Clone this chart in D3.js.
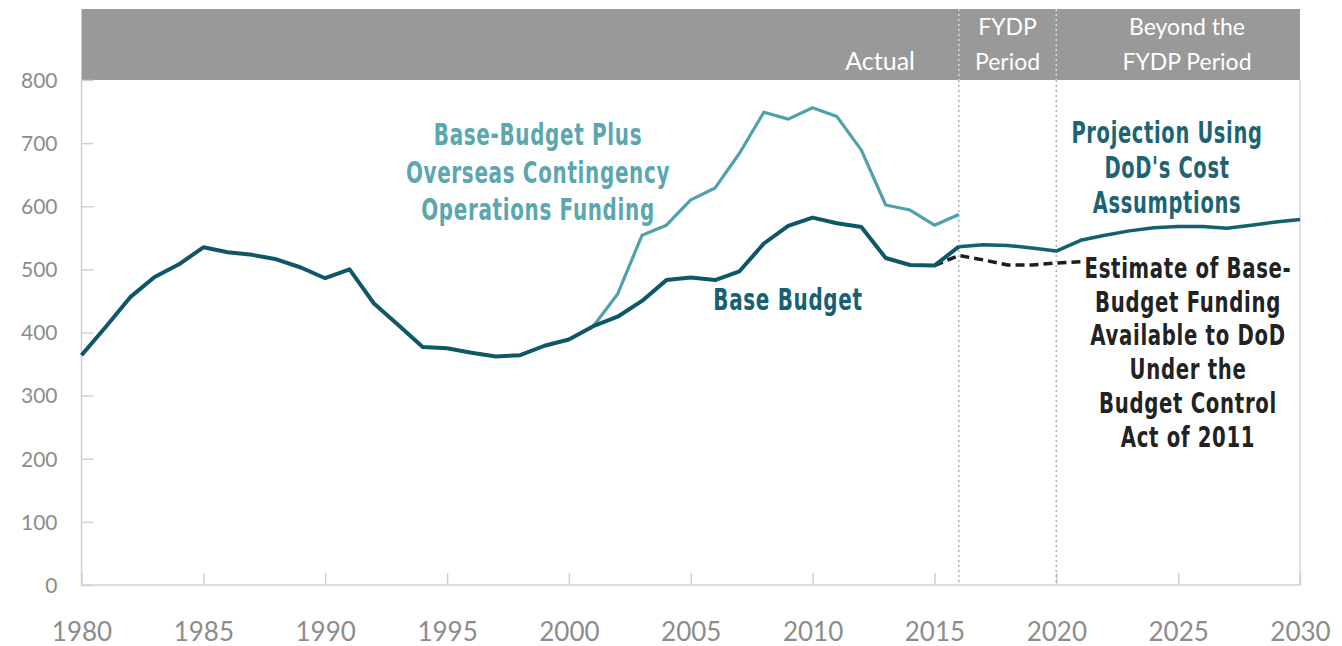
<!DOCTYPE html>
<html>
<head>
<meta charset="utf-8">
<script src="https://cdn.jsdelivr.net/npm/d3@7"></script>
<style>
  html, body { margin: 0; padding: 0; background: #fff; }
  svg { display: block; }
  .tick text { font-family: Lato, "Noto Sans", sans-serif; fill: #8c8c8c; }
  .ann { font-family: "DejaVu Sans", sans-serif; font-weight: bold; }
  .hdr { font-family: Lato, "Noto Sans", sans-serif; fill: #fff; font-size: 23px; }
</style>
</head>
<body>
<svg id="chart" width="1342" height="646"></svg>
<script>
// ---- data ----
const baseYears = [1980,1981,1982,1983,1984,1985,1986,1987,1988,1989,1990,1991,1992,1993,1994,1995,1996,1997,1998,1999,2000,2001,2002,2003,2004,2005,2006,2007,2008,2009,2010,2011,2012,2013,2014,2015,2016];
const baseValues = [364,409,456,488,508,535,527,523,516,503,486,500,446,412,377,375,368,362,364,379,389,410,425,450,483,487,483,497,541,569,582,573,567,518,507,506,536];

const ocoYears = [2001,2002,2003,2004,2005,2006,2007,2008,2009,2010,2011,2012,2013,2014,2015,2016];
const ocoValues = [410,461,554,570,610,629,684,749,738,756,742,689,602,594,570,587];

const projYears = [2016,2017,2018,2019,2020,2021,2022,2023,2024,2025,2026,2027,2028,2029,2030];
const projValues = [536,539,538,534,529,546,554,561,566,568,568,565,570,575,579];

const bcaYears = [2015,2016,2017,2018,2019,2020,2021];
const bcaValues = [506,522,515,507,507,510,512];

const yTicks = [0,100,200,300,400,500,600,700,800];
const xTicks = [1980,1985,1990,1995,2000,2005,2010,2015,2020,2025,2030];
const periodBreaks = [2016,2020];

(function () {
// ---- layout ----
const svg = d3.select("#chart");
const L = 81.5, R = 1300, T = 80, B = 585, bandTop = 9;
const x = d3.scaleLinear().domain([1980, 2030]).range([L, R]);
const y = d3.scaleLinear().domain([0, 800]).range([B, T]);

// header band
svg.append("rect").attr("x", L).attr("y", bandTop).attr("width", R - L).attr("height", T - bandTop).attr("fill", "#999999");

// right border
svg.append("line").attr("x1", R).attr("x2", R).attr("y1", T).attr("y2", B).attr("stroke", "#d6d6d6").attr("stroke-width", 1.5);

// y axis
const yAxis = svg.append("g").attr("transform", `translate(${L},0)`)
  .call(d3.axisRight(y).tickValues(yTicks).tickSize(12).tickFormat(d3.format("d")));
yAxis.select(".domain").remove();
yAxis.selectAll(".tick line").attr("stroke", "#d0d0d0").attr("stroke-width", 1.5);
yAxis.selectAll(".tick text").attr("x", -24).attr("text-anchor", "end").attr("dy", "0.35em").style("font-size", "21px");
svg.append("line").attr("x1", L).attr("x2", L).attr("y1", T).attr("y2", B).attr("stroke", "#d0d0d0").attr("stroke-width", 1.5);

// x axis
const xAxis = svg.append("g").attr("transform", `translate(0,${B})`)
  .call(d3.axisTop(x).tickValues(xTicks).tickSize(12).tickFormat(d3.format("d")));
xAxis.select(".domain").remove();
xAxis.selectAll(".tick line").attr("stroke", "#d0d0d0").attr("stroke-width", 1.5);
xAxis.selectAll(".tick text").attr("y", 47).attr("dy", "0.35em").attr("text-anchor", "middle").style("font-size", "26px");
svg.append("line").attr("x1", L).attr("x2", R).attr("y1", B).attr("y2", B).attr("stroke", "#d0d0d0").attr("stroke-width", 1.5);

// period dividers
periodBreaks.forEach(yr => {
  svg.append("line").attr("x1", x(yr)).attr("x2", x(yr)).attr("y1", bandTop).attr("y2", T)
    .attr("stroke", "#d8d8d8").attr("stroke-width", 1.5).attr("stroke-dasharray", "2,3");
  svg.append("line").attr("x1", x(yr)).attr("x2", x(yr)).attr("y1", T).attr("y2", B)
    .attr("stroke", "#b0b0b0").attr("stroke-width", 1.5).attr("stroke-dasharray", "2,3");
});

// header labels
svg.append("text").attr("class", "hdr").attr("x", 915).attr("y", 70).attr("text-anchor", "end").style("font-size", "25px").text("Actual");
[["FYDP", 35], ["Period", 70]].forEach(([t, yy]) =>
  svg.append("text").attr("class", "hdr").attr("x", (x(2016) + x(2020)) / 2).attr("y", yy).attr("text-anchor", "middle").text(t));
[["Beyond the", 35], ["FYDP Period", 70]].forEach(([t, yy]) =>
  svg.append("text").attr("class", "hdr").attr("x", 1187).attr("y", yy).attr("text-anchor", "middle").text(t));

// lines
const line = d3.line().x(d => x(d[0])).y(d => y(d[1]));
const zip = (a, b) => a.map((v, i) => [v, b[i]]);

svg.append("path").datum(zip(ocoYears, ocoValues)).attr("d", line)
  .attr("fill", "none").attr("stroke", "#4fa2aa").attr("stroke-width", 3.2).attr("stroke-linejoin", "round");
svg.append("path").datum(zip(bcaYears, bcaValues)).attr("d", line)
  .attr("fill", "none").attr("stroke", "#1c1c1c").attr("stroke-width", 3.5).attr("stroke-dasharray", "9,5");
svg.append("path").datum(zip(baseYears, baseValues)).attr("d", line)
  .attr("fill", "none").attr("stroke", "#0e5768").attr("stroke-width", 4).attr("stroke-linejoin", "round");
svg.append("path").datum(zip(projYears, projValues)).attr("d", line)
  .attr("fill", "none").attr("stroke", "#13606f").attr("stroke-width", 3.5).attr("stroke-linejoin", "round");

// annotations (condensed by a horizontal scale)
function block(lines, cx, y0, step, color, size, sx) {
  lines.forEach((t, i) => svg.append("text").attr("class", "ann")
    .attr("transform", `translate(${cx},${y0 + i * step}) scale(${sx},1)`)
    .attr("text-anchor", "middle")
    .attr("fill", color).attr("font-size", size).attr("letter-spacing", "1px").text(t));
}
block(["Base-Budget Plus", "Overseas Contingency", "Operations Funding"], 538, 145, 37.5, "#5aa7af", 30, 0.665);
block(["Base Budget"], 788, 310, 0, "#17606f", 30, 0.665);
block(["Projection Using", "DoD's Cost", "Assumptions"], 1167, 143, 35, "#1d6473", 30, 0.65);
block(["Estimate of Base-", "Budget Funding", "Available to DoD", "Under the", "Budget Control", "Act of 2011"], 1188, 278, 33.7, "#222222", 29, 0.68);
})();
</script>
</body>
</html>
